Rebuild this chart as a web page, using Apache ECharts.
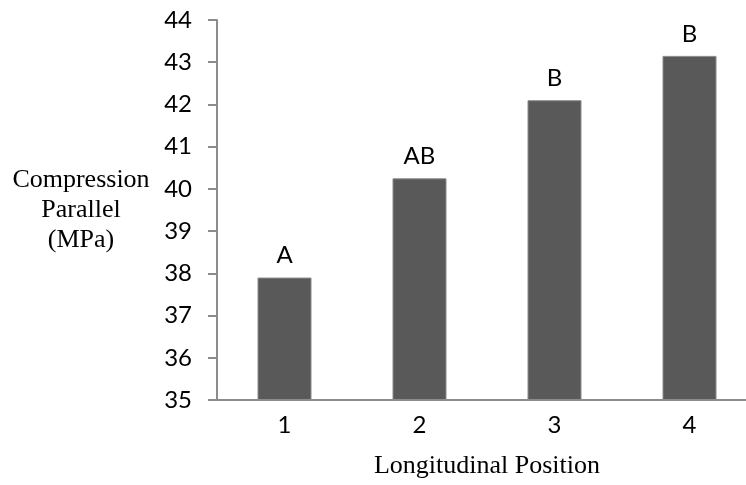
<!DOCTYPE html>
<html>
<head>
<meta charset="utf-8">
<script src="https://cdn.jsdelivr.net/npm/echarts@6/dist/echarts.min.js"></script>
<style>
  html, body { margin: 0; padding: 0; background: #ffffff; }
  #chart { width: 746px; height: 485px; }
</style>
</head>
<body>
<div id="chart"></div>
<script>
// Longitudinal positions along the member
const positions = ['1', '2', '3', '4'];
// Mean compression parallel strength (MPa) at each position
const strengthMPa = [37.9, 40.25, 42.1, 43.15];
// Significance grouping letters shown above each bar
const groupLetters = ['A', 'AB', 'B', 'B'];

const yMin = 35;
const yMax = 44;
const yStep = 1;

const chart = echarts.init(document.getElementById('chart'), null, { renderer: 'canvas' });

const sansFont = 'Lato, "Open Sans", sans-serif';
const serifFont = '"Liberation Serif", "DejaVu Serif", serif';
const axisGray = '#8c8c8c';

chart.setOption({
  animation: false,
  backgroundColor: '#ffffff',
  grid: {
    left: 217, top: 20, width: 540, height: 380,
    containLabel: false,
    outerBoundsMode: 'none'
  },
  xAxis: {
    type: 'category',
    data: positions,
    boundaryGap: true,
    name: 'Longitudinal Position',
    nameLocation: 'middle',
    nameGap: 66,
    nameTextStyle: {
      fontFamily: serifFont, fontSize: 26, color: '#000000',
      verticalAlign: 'middle'
    },
    axisLine: { show: true, lineStyle: { color: axisGray, width: 2 } },
    axisTick: { show: false },
    axisLabel: { fontFamily: sansFont, fontSize: 24, color: '#000000', margin: 13 },
    splitLine: { show: false },
    z: 5
  },
  yAxis: {
    type: 'value',
    min: yMin,
    max: yMax,
    interval: yStep,
    name: 'Compression\nParallel\n(MPa)',
    nameLocation: 'middle',
    nameRotate: 0,
    nameGap: 136,
    nameTextStyle: {
      fontFamily: serifFont, fontSize: 26, color: '#000000',
      align: 'center', verticalAlign: 'middle', lineHeight: 30
    },
    axisLine: { show: true, lineStyle: { color: axisGray, width: 2 } },
    axisTick: { show: true, inside: false, length: 9, lineStyle: { color: axisGray, width: 2 } },
    axisLabel: { fontFamily: sansFont, fontSize: 24, color: '#000000', margin: 25 },
    splitLine: { show: false }
  },
  series: [{
    type: 'bar',
    data: strengthMPa,
    barWidth: 54,
    itemStyle: { color: '#595959', borderColor: '#8a8a8a', borderWidth: 1 },
    label: {
      show: true,
      position: 'top',
      distance: 10,
      fontFamily: sansFont,
      fontSize: 24,
      color: '#000000',
      formatter: (p) => groupLetters[p.dataIndex]
    }
  }]
});
</script>
</body>
</html>
